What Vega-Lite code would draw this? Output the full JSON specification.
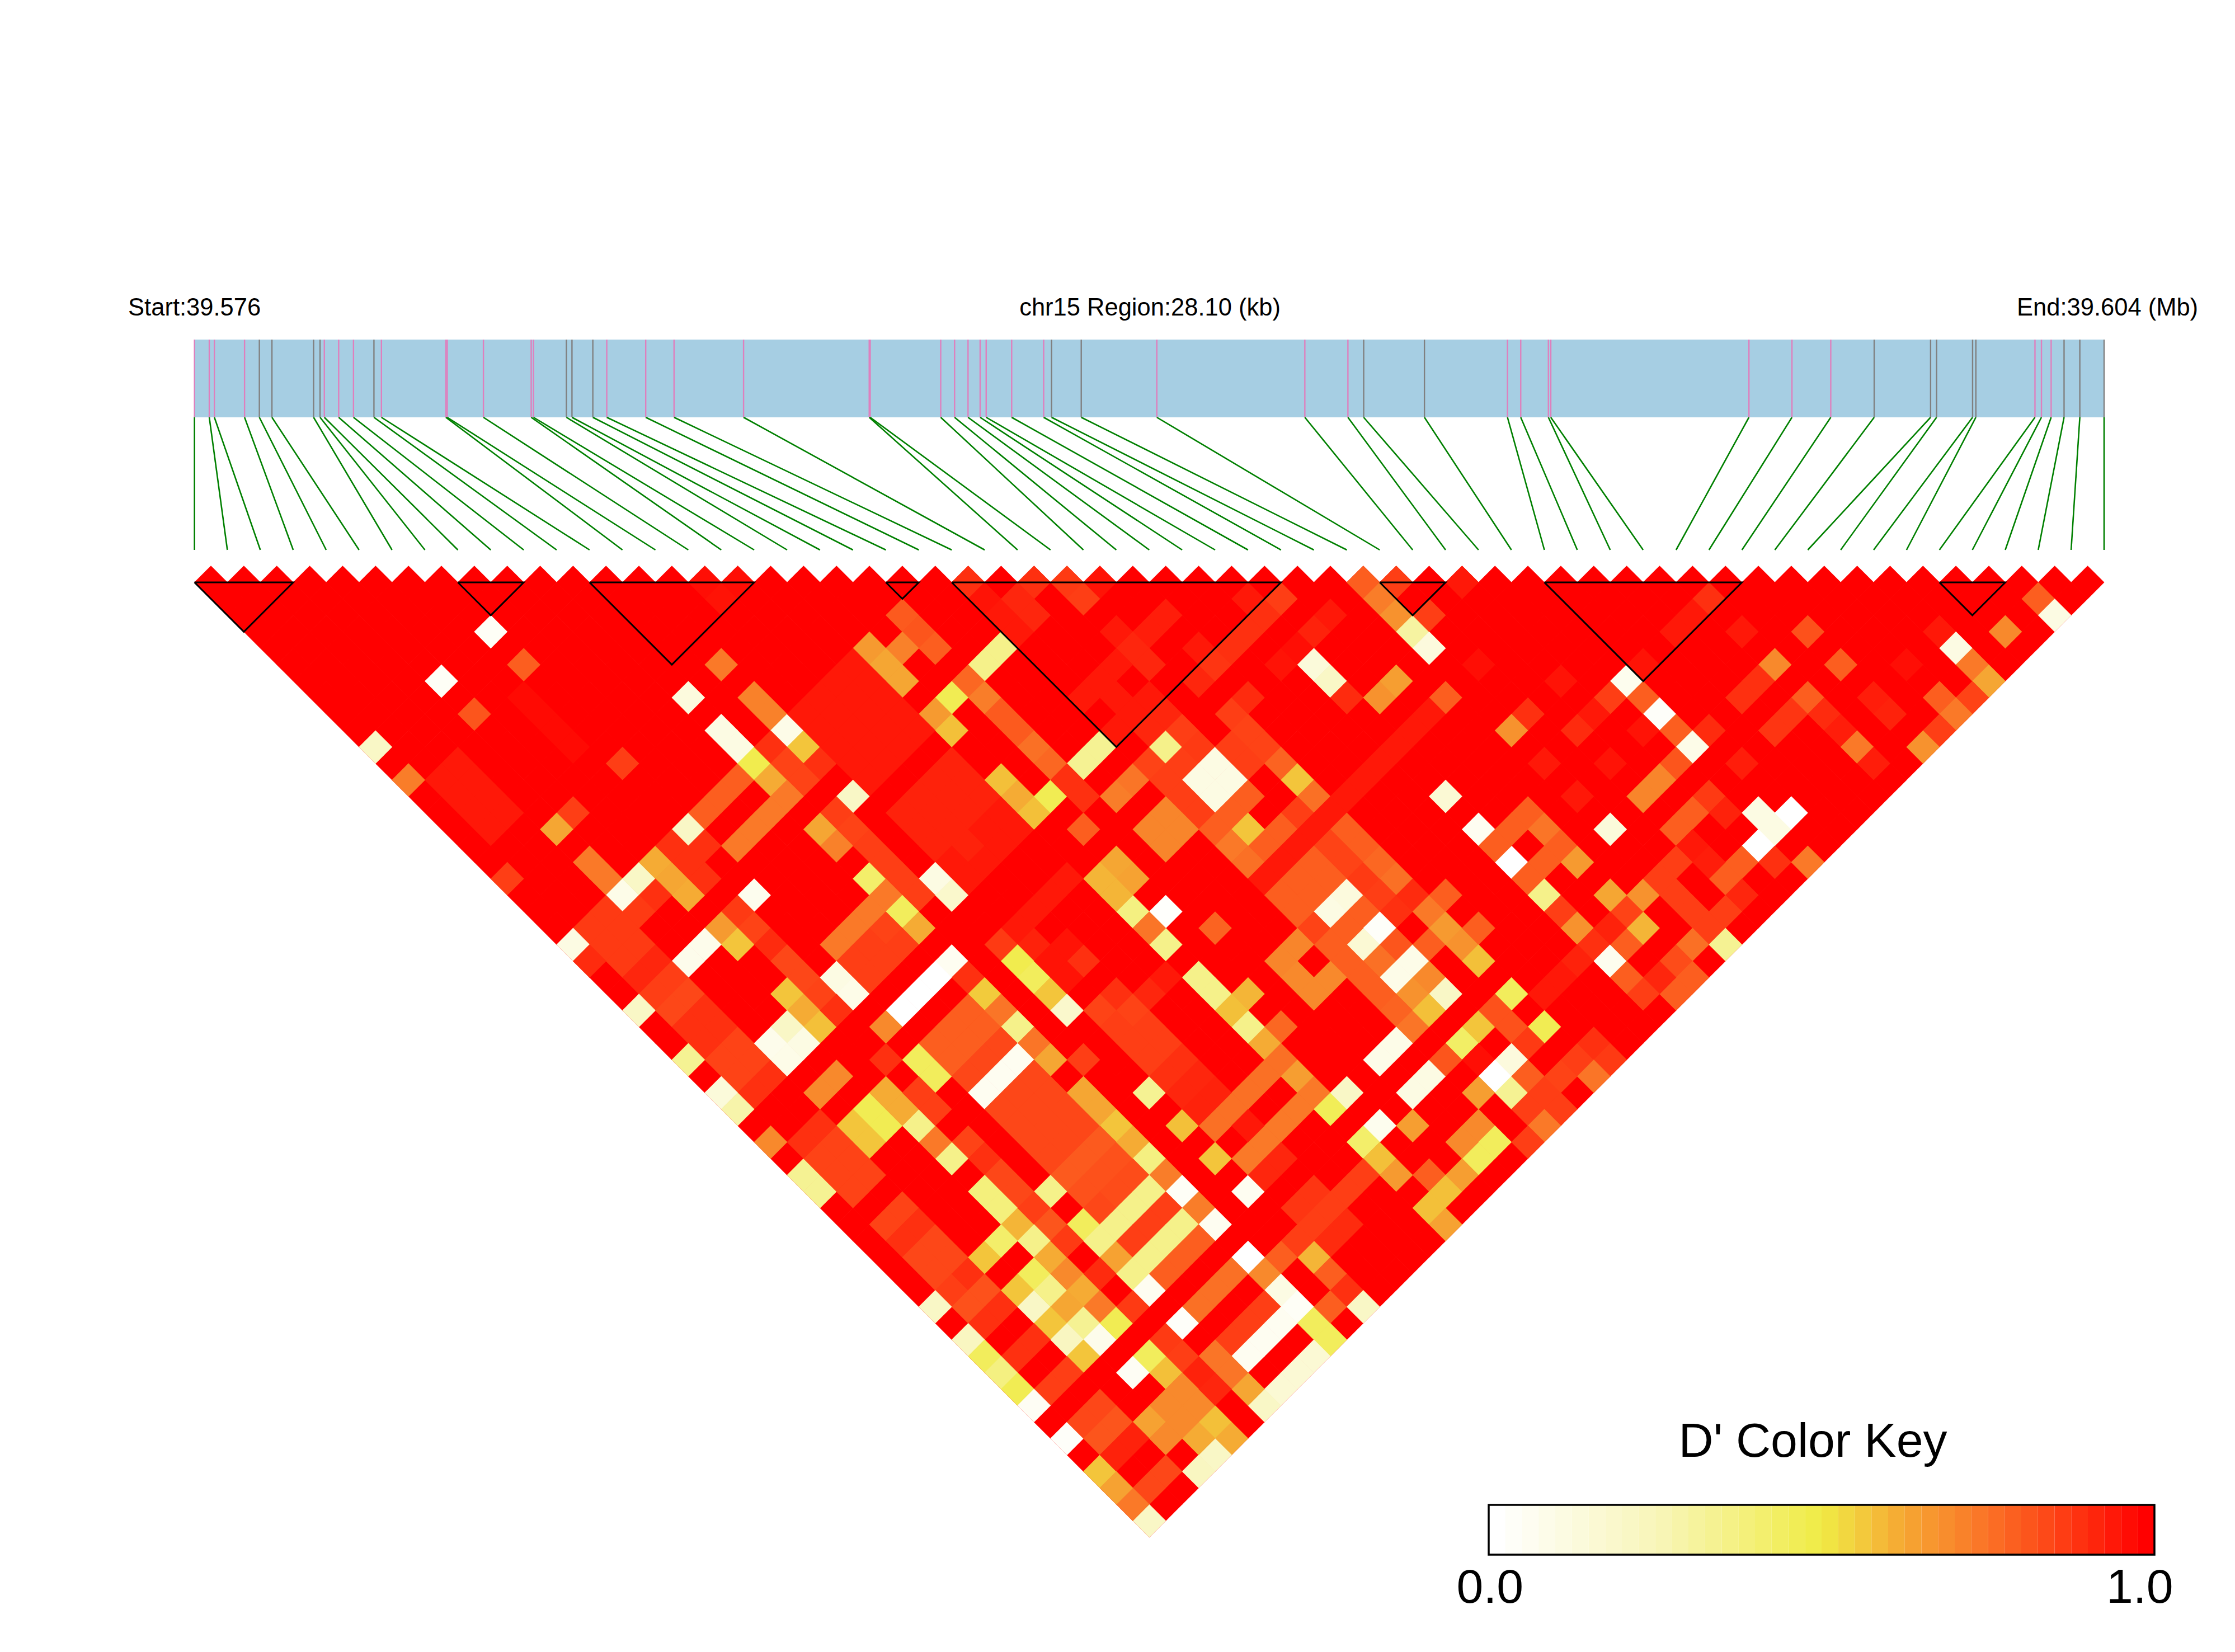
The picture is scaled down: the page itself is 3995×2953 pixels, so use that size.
{"$schema":"https://vega.github.io/schema/vega-lite/v6.json","width":3995,"height":2953,"autosize":{"type":"fit","contains":"padding"},"padding":0,"background":"white","config":{"view":{"stroke":null}},
"datasets":{
"snps":[{"k":0,"pos":0,"end":0,"t":"p"},{"k":1,"pos":0.218,"end":0.484,"t":"p"},{"k":2,"pos":0.293,"end":0.969,"t":"p"},{"k":3,"pos":0.737,"end":1.453,"t":"p"},{"k":4,"pos":0.955,"end":1.938,"t":"g"},{"k":5,"pos":1.14,"end":2.422,"t":"g"},{"k":6,"pos":1.753,"end":2.907,"t":"g"},{"k":7,"pos":1.848,"end":3.391,"t":"g"},{"k":8,"pos":1.911,"end":3.876,"t":"p"},{"k":9,"pos":2.122,"end":4.36,"t":"p"},{"k":10,"pos":2.34,"end":4.845,"t":"p"},{"k":11,"pos":2.641,"end":5.329,"t":"g"},{"k":12,"pos":2.751,"end":5.814,"t":"p"},{"k":13,"pos":3.699,"end":6.298,"t":"p"},{"k":14,"pos":3.719,"end":6.783,"t":"p"},{"k":15,"pos":4.252,"end":7.267,"t":"p"},{"k":16,"pos":4.955,"end":7.752,"t":"p"},{"k":17,"pos":4.989,"end":8.236,"t":"p"},{"k":18,"pos":5.473,"end":8.721,"t":"g"},{"k":19,"pos":5.555,"end":9.205,"t":"g"},{"k":20,"pos":5.862,"end":9.69,"t":"g"},{"k":21,"pos":6.067,"end":10.174,"t":"p"},{"k":22,"pos":6.64,"end":10.659,"t":"p"},{"k":23,"pos":7.057,"end":11.143,"t":"p"},{"k":24,"pos":8.08,"end":11.628,"t":"p"},{"k":25,"pos":9.929,"end":12.112,"t":"p"},{"k":26,"pos":9.943,"end":12.597,"t":"p"},{"k":27,"pos":10.981,"end":13.081,"t":"p"},{"k":28,"pos":11.185,"end":13.565,"t":"p"},{"k":29,"pos":11.383,"end":14.05,"t":"p"},{"k":30,"pos":11.561,"end":14.534,"t":"p"},{"k":31,"pos":11.65,"end":15.019,"t":"p"},{"k":32,"pos":12.025,"end":15.503,"t":"p"},{"k":33,"pos":12.496,"end":15.988,"t":"p"},{"k":34,"pos":12.612,"end":16.472,"t":"g"},{"k":35,"pos":13.049,"end":16.957,"t":"g"},{"k":36,"pos":14.161,"end":17.441,"t":"p"},{"k":37,"pos":16.339,"end":17.926,"t":"p"},{"k":38,"pos":16.973,"end":18.41,"t":"p"},{"k":39,"pos":17.205,"end":18.895,"t":"g"},{"k":40,"pos":18.099,"end":19.379,"t":"g"},{"k":41,"pos":19.321,"end":19.864,"t":"p"},{"k":42,"pos":19.516,"end":20.348,"t":"p"},{"k":43,"pos":19.923,"end":20.833,"t":"p"},{"k":44,"pos":19.958,"end":21.317,"t":"p"},{"k":45,"pos":22.874,"end":21.802,"t":"p"},{"k":46,"pos":23.507,"end":22.286,"t":"p"},{"k":47,"pos":24.078,"end":22.771,"t":"p"},{"k":48,"pos":24.717,"end":23.255,"t":"g"},{"k":49,"pos":25.547,"end":23.74,"t":"g"},{"k":50,"pos":25.635,"end":24.224,"t":"g"},{"k":51,"pos":26.165,"end":24.709,"t":"g"},{"k":52,"pos":26.213,"end":25.193,"t":"g"},{"k":53,"pos":27.083,"end":25.677,"t":"p"},{"k":54,"pos":27.178,"end":26.162,"t":"p"},{"k":55,"pos":27.321,"end":26.646,"t":"p"},{"k":56,"pos":27.511,"end":27.131,"t":"g"},{"k":57,"pos":27.743,"end":27.615,"t":"g"},{"k":58,"pos":28.1,"end":28.1,"t":"g"}],
"base":[
{"d":1,"l":1,"s":[1,3,5,7,9,11,13,15,17,19,21,23,25,27,29,31,33,35,37,39,41,43,45,47,49,51,53,55,57,59,61,63,65,67,69,71,73,75,77,79,81,83,85,87,89,91,93,95,97,99,101,103,105,107,109,111,113,115]},
{"d":1,"l":2,"s":[2,4,6,8,10,12,14,16,18,20,22,24,26,28,30,32,34,36,38,40,42,44,46,48,50,52,54,56,58,60,62,64,66,68,70,72,74,76,78,80,82,84,86,88,90,92,94,96,98,100,102,104,106,108,110,112,114]},
{"d":1,"l":3,"s":[3,5,7,9,11,13,15,17,19,21,23,25,27,29,31,33,35,37,39,41,43,45,47,49,51,53,55,57,59,61,63,65,67,69,71,73,75,77,79,81,83,85,87,89,91,93,95,97,99,101,103,105,107,109,111,113]},
{"d":1,"l":4,"s":[4,6,8,10,12,14,16,18,20,22,24,26,28,30,32,34,36,38,40,42,44,46,48,50,52,54,56,58,60,62,64,66,68,70,72,74,76,78,80,82,84,86,88,90,92,94,96,98,100,102,104,106,108,110,112]},
{"d":1,"l":5,"s":[5,7,9,11,13,15,17,19,21,23,25,27,29,31,33,35,37,39,41,43,45,47,49,51,53,55,57,59,61,63,65,67,69,71,73,75,77,79,81,83,85,87,89,91,93,95,97,99,101,103,105,107,109,111]},
{"d":1,"l":6,"s":[6,8,10,12,14,16,18,20,22,24,26,28,30,32,34,36,38,40,42,44,46,48,50,52,54,56,58,60,62,64,66,68,70,72,74,76,78,80,82,84,86,88,90,92,94,96,98,100,102,104,106,108,110]},
{"d":1,"l":7,"s":[7,9,11,13,15,17,19,21,23,25,27,29,31,33,35,37,39,41,43,45,47,49,51,53,55,57,59,61,63,65,67,69,71,73,75,77,79,81,83,85,87,89,91,93,95,97,99,101,103,105,107,109]},
{"d":1,"l":8,"s":[8,10,12,14,16,18,20,22,24,26,28,30,32,34,36,38,40,42,44,46,48,50,52,54,56,58,60,62,64,66,68,70,72,74,76,78,80,82,84,86,88,90,92,94,96,98,100,102,104,106,108]},
{"d":1,"l":9,"s":[9,11,13,15,17,19,21,23,25,27,29,31,33,35,37,39,41,43,45,47,49,51,53,55,57,59,61,63,65,67,69,71,73,75,77,79,81,83,85,87,89,91,93,95,97,99,101,103,105,107]},
{"d":1,"l":10,"s":[10,12,14,16,18,20,22,24,26,28,30,32,34,36,38,40,42,44,46,48,50,52,54,56,58,60,62,64,66,68,70,72,74,76,78,80,82,84,86,88,90,92,94,96,98,100,102,104,106]},
{"d":1,"l":11,"s":[11,13,15,17,19,21,23,25,27,29,31,33,35,37,39,41,43,45,47,49,51,53,55,57,59,61,63,65,67,69,71,73,75,77,79,81,83,85,87,89,91,93,95,97,99,101,103,105]},
{"d":1,"l":12,"s":[12,14,16,18,20,22,24,26,28,30,32,34,36,38,40,42,44,46,48,50,52,54,56,58,60,62,64,66,68,70,72,74,76,78,80,82,84,86,88,90,92,94,96,98,100,102,104]},
{"d":1,"l":13,"s":[13,15,17,19,21,23,25,27,29,31,33,35,37,39,41,43,45,47,49,51,53,55,57,59,61,63,65,67,69,71,73,75,77,79,81,83,85,87,89,91,93,95,97,99,101,103]},
{"d":1,"l":14,"s":[14,16,18,20,22,24,26,28,30,32,34,36,38,40,42,44,46,48,50,52,54,56,58,60,62,64,66,68,70,72,74,76,78,80,82,84,86,88,90,92,94,96,98,100,102]},
{"d":1,"l":15,"s":[15,17,19,21,23,25,27,29,31,33,35,37,39,41,43,45,47,49,51,53,55,57,59,61,63,65,67,69,71,73,75,77,79,81,83,85,87,89,91,93,95,97,99,101]},
{"d":1,"l":16,"s":[16,18,20,22,24,26,28,30,32,34,36,38,40,42,44,46,48,50,52,54,56,58,60,62,64,66,68,70,72,74,76,78,80,82,84,86,88,90,92,94,96,98,100]},
{"d":1,"l":17,"s":[17,19,21,23,25,27,29,31,33,35,37,39,41,43,45,47,49,51,53,55,57,59,61,63,65,67,69,71,73,75,77,79,81,83,85,87,89,91,93,95,97,99]},
{"d":1,"l":18,"s":[18,20,22,24,26,28,30,32,34,36,38,40,42,44,46,48,50,52,54,56,58,60,62,64,66,68,70,72,74,76,78,80,82,84,86,88,90,92,94,96,98]},
{"d":1,"l":19,"s":[19,21,23,25,27,29,31,33,35,37,39,41,43,45,47,49,51,53,55,57,59,61,63,65,67,69,71,73,75,77,79,81,83,85,87,89,91,93,95,97]},
{"d":1,"l":20,"s":[20,22,24,26,28,30,32,34,36,38,40,42,44,46,48,50,52,54,56,58,60,62,64,66,68,70,72,74,76,78,80,82,84,86,88,90,92,94,96]},
{"d":1,"l":21,"s":[21,23,25,27,29,31,33,35,37,39,41,43,45,47,49,51,53,55,57,59,61,63,65,67,69,71,73,75,77,79,81,83,85,87,89,91,93,95]},
{"d":1,"l":22,"s":[22,24,26,28,30,32,34,36,38,40,42,44,46,48,50,52,54,56,58,60,62,64,66,68,70,72,74,76,78,80,82,84,86,88,90,92,94]},
{"d":1,"l":23,"s":[23,25,27,29,31,33,35,37,39,41,43,45,47,49,51,53,55,57,59,61,63,65,67,69,71,73,75,77,79,81,83,85,87,89,91,93]},
{"d":1,"l":24,"s":[24,26,28,30,32,34,36,38,40,42,44,46,48,50,52,54,56,58,60,62,64,66,68,70,72,74,76,78,80,82,84,86,88,90,92]},
{"d":1,"l":25,"s":[25,27,29,31,33,35,37,39,41,43,45,47,49,51,53,55,57,59,61,63,65,67,69,71,73,75,77,79,81,83,85,87,89,91]},
{"d":1,"l":26,"s":[26,28,30,32,34,36,38,40,42,44,46,48,50,52,54,56,58,60,62,64,66,68,70,72,74,76,78,80,82,84,86,88,90]},
{"d":1,"l":27,"s":[27,29,31,33,35,37,39,41,43,45,47,49,51,53,55,57,59,61,63,65,67,69,71,73,75,77,79,81,83,85,87,89]},
{"d":1,"l":28,"s":[28,30,32,34,36,38,40,42,44,46,48,50,52,54,56,58,60,62,64,66,68,70,72,74,76,78,80,82,84,86,88]},
{"d":1,"l":29,"s":[29,31,33,35,37,39,41,43,45,47,49,51,53,55,57,59,61,63,65,67,69,71,73,75,77,79,81,83,85,87]},
{"d":1,"l":30,"s":[30,32,34,36,38,40,42,44,46,48,50,52,54,56,58,60,62,64,66,68,70,72,74,76,78,80,82,84,86]},
{"d":1,"l":31,"s":[31,33,35,37,39,41,43,45,47,49,51,53,55,57,59,61,63,65,67,69,71,73,75,77,79,81,83,85]},
{"d":1,"l":32,"s":[32,34,36,38,40,42,44,46,48,50,52,54,56,58,60,62,64,66,68,70,72,74,76,78,80,82,84]},
{"d":1,"l":33,"s":[33,35,37,39,41,43,45,47,49,51,53,55,57,59,61,63,65,67,69,71,73,75,77,79,81,83]},
{"d":1,"l":34,"s":[34,36,38,40,42,44,46,48,50,52,54,56,58,60,62,64,66,68,70,72,74,76,78,80,82]},
{"d":1,"l":35,"s":[35,37,39,41,43,45,47,49,51,53,55,57,59,61,63,65,67,69,71,73,75,77,79,81]},
{"d":1,"l":36,"s":[36,38,40,42,44,46,48,50,52,54,56,58,60,62,64,66,68,70,72,74,76,78,80]},
{"d":1,"l":37,"s":[37,39,41,43,45,47,49,51,53,55,57,59,61,63,65,67,69,71,73,75,77,79]},
{"d":1,"l":38,"s":[38,40,42,44,46,48,50,52,54,56,58,60,62,64,66,68,70,72,74,76,78]},
{"d":1,"l":39,"s":[39,41,43,45,47,49,51,53,55,57,59,61,63,65,67,69,71,73,75,77]},
{"d":1,"l":40,"s":[40,42,44,46,48,50,52,54,56,58,60,62,64,66,68,70,72,74,76]},
{"d":1,"l":41,"s":[41,43,45,47,49,51,53,55,57,59,61,63,65,67,69,71,73,75]},
{"d":1,"l":42,"s":[42,44,46,48,50,52,54,56,58,60,62,64,66,68,70,72,74]},
{"d":1,"l":43,"s":[43,45,47,49,51,53,55,57,59,61,63,65,67,69,71,73]},
{"d":1,"l":44,"s":[44,46,48,50,52,54,56,58,60,62,64,66,68,70,72]},
{"d":1,"l":45,"s":[45,47,49,51,53,55,57,59,61,63,65,67,69,71]},
{"d":1,"l":46,"s":[46,48,50,52,54,56,58,60,62,64,66,68,70]},
{"d":1,"l":47,"s":[47,49,51,53,55,57,59,61,63,65,67,69]},
{"d":1,"l":48,"s":[48,50,52,54,56,58,60,62,64,66,68]},
{"d":1,"l":49,"s":[49,51,53,55,57,59,61,63,65,67]},
{"d":1,"l":50,"s":[50,52,54,56,58,60,62,64,66]},
{"d":1,"l":51,"s":[51,53,55,57,59,61,63,65]},
{"d":1,"l":52,"s":[52,54,56,58,60,62,64]},
{"d":1,"l":53,"s":[53,55,57,59,61,63]},
{"d":1,"l":54,"s":[54,56,58,60,62]},
{"d":1,"l":55,"s":[55,57,59,61]},
{"d":1,"l":56,"s":[56,58,60]},
{"d":1,"l":57,"s":[57,59]},
{"d":1,"l":58,"s":[58]}],
"cells":[
{"s":18,"l":4,"d":0.03},{"s":20,"l":6,"d":0.8},{"s":15,"l":7,"d":0.03},{"s":17,"l":9,"d":0.82},{"s":32,"l":6,"d":0.74},{"s":30,"l":8,"d":0.12},{"s":20,"l":8,"d":0.98},{"s":21,"l":9,"d":0.98},{"s":22,"l":10,"d":0.98},{"s":23,"l":11,"d":0.98},{"s":26,"l":12,"d":0.87},{"s":11,"l":11,"d":0.2},{"s":13,"l":13,"d":0.73},
{"s":16,"l":12,"d":0.95},{"s":17,"l":13,"d":0.95},{"s":18,"l":14,"d":0.95},{"s":19,"l":15,"d":0.95},{"s":15,"l":13,"d":0.95},{"s":16,"l":14,"d":0.95},{"s":17,"l":15,"d":0.95},{"s":18,"l":16,"d":0.95},
{"s":23,"l":15,"d":0.87},{"s":22,"l":16,"d":0.63},{"s":19,"l":19,"d":0.87},{"s":24,"l":18,"d":0.74},{"s":25,"l":19,"d":0.74},{"s":26,"l":20,"d":0.08},{"s":27,"l":19,"d":0.2},{"s":28,"l":18,"d":0.62},{"s":29,"l":19,"d":0.63},{"s":30,"l":20,"d":0.62},{"s":28,"l":20,"d":0.9},{"s":30,"l":16,"d":0.2},{"s":31,"l":15,"d":0.8},{"s":32,"l":14,"d":0.8},{"s":33,"l":13,"d":0.8},{"s":32,"l":10,"d":0.1},{"s":33,"l":11,"d":0.1},{"s":34,"l":12,"d":0.48},{"s":35,"l":13,"d":0.62},{"s":34,"l":8,"d":0.72},{"s":35,"l":9,"d":0.72},{"s":36,"l":10,"d":0.08},{"s":35,"l":11,"d":0.9},{"s":37,"l":11,"d":0.57},{"s":36,"l":12,"d":0.86},{"s":37,"l":13,"d":0.86},{"s":38,"l":12,"d":0.9},{"s":36,"l":14,"d":0.74},{"s":35,"l":15,"d":0.74},{"s":34,"l":16,"d":0.74},{"s":33,"l":17,"d":0.74},
{"s":29,"l":17,"d":0.9},{"s":31,"l":17,"d":0.9},{"s":30,"l":18,"d":0.9},{"s":31,"l":19,"d":0.9},{"s":34,"l":20,"d":0.06},{"s":33,"l":21,"d":0.88},{"s":32,"l":22,"d":0.66},{"s":34,"l":22,"d":0.86},{"s":33,"l":23,"d":0.57},{"s":35,"l":23,"d":0.91},{"s":36,"l":24,"d":0.85},{"s":37,"l":25,"d":0.85},{"s":31,"l":23,"d":0.07},{"s":30,"l":24,"d":0.07},
{"s":24,"l":22,"d":0.88},{"s":25,"l":21,"d":0.88},{"s":27,"l":21,"d":0.88},{"s":26,"l":22,"d":0.88},{"s":25,"l":23,"d":0.88},{"s":26,"l":24,"d":0.88},{"s":27,"l":23,"d":0.88},{"s":23,"l":23,"d":0.1},{"s":24,"l":24,"d":0.91},{"s":27,"l":25,"d":0.92},{"s":28,"l":24,"d":0.92},{"s":29,"l":25,"d":0.87},{"s":28,"l":26,"d":0.87},{"s":30,"l":26,"d":0.85},{"s":31,"l":27,"d":0.9},{"s":36,"l":26,"d":0.57},{"s":38,"l":26,"d":0.86},{"s":32,"l":2,"d":0.96},{"s":31,"l":1,"d":0.97},{"s":33,"l":1,"d":0.97},
{"s":71,"l":1,"d":0.8},{"s":73,"l":1,"d":0.87},{"s":77,"l":1,"d":0.95},{"s":47,"l":1,"d":0.9},{"s":51,"l":1,"d":0.9},{"s":53,"l":1,"d":0.88},{"s":55,"l":1,"d":0.96},
{"s":48,"l":2,"d":0.96},{"s":49,"l":3,"d":0.95},{"s":50,"l":4,"d":0.95},{"s":50,"l":2,"d":0.92},{"s":51,"l":3,"d":0.92},{"s":54,"l":2,"d":0.87},{"s":56,"l":4,"d":0.95},{"s":58,"l":4,"d":0.94},{"s":59,"l":3,"d":0.94},{"s":57,"l":5,"d":0.92},{"s":58,"l":6,"d":0.92},{"s":55,"l":7,"d":0.95},{"s":56,"l":6,"d":0.95},{"s":54,"l":8,"d":0.95},{"s":56,"l":8,"d":0.95},{"s":56,"l":10,"d":0.95},{"s":58,"l":8,"d":0.95},{"s":57,"l":9,"d":0.95},{"s":59,"l":9,"d":0.92},{"s":58,"l":10,"d":0.92},{"s":61,"l":7,"d":0.92},{"s":61,"l":5,"d":0.95},{"s":62,"l":6,"d":0.89},{"s":63,"l":5,"d":0.9},{"s":64,"l":4,"d":0.9},{"s":65,"l":3,"d":0.9},{"s":66,"l":2,"d":0.87},{"s":64,"l":2,"d":0.95},
{"s":43,"l":3,"d":0.81},{"s":44,"l":4,"d":0.82},{"s":45,"l":5,"d":0.8},{"s":43,"l":5,"d":0.72},{"s":41,"l":5,"d":0.66},{"s":42,"l":6,"d":0.63},{"s":43,"l":7,"d":0.63},{"s":48,"l":6,"d":0.35},{"s":49,"l":5,"d":0.35},{"s":47,"l":7,"d":0.78},{"s":48,"l":8,"d":0.73},{"s":46,"l":8,"d":0.47},{"s":45,"l":9,"d":0.66},{"s":46,"l":10,"d":0.58},{"s":49,"l":9,"d":0.81},{"s":50,"l":10,"d":0.81},{"s":51,"l":11,"d":0.76},{"s":52,"l":12,"d":0.78},{"s":54,"l":12,"d":0.33},{"s":55,"l":11,"d":0.33},
{"s":40,"l":6,"d":0.95},{"s":39,"l":7,"d":0.95},{"s":40,"l":8,"d":0.95},{"s":41,"l":7,"d":0.95},{"s":42,"l":8,"d":0.95},{"s":41,"l":9,"d":0.95},{"s":40,"l":10,"d":0.95},{"s":42,"l":10,"d":0.95},{"s":43,"l":9,"d":0.95},{"s":44,"l":10,"d":0.95},{"s":43,"l":11,"d":0.95},{"s":42,"l":12,"d":0.95},{"s":41,"l":11,"d":0.95},{"s":40,"l":12,"d":0.95},{"s":41,"l":13,"d":0.95},{"s":39,"l":11,"d":0.95},{"s":39,"l":9,"d":0.95},{"s":38,"l":8,"d":0.95},{"s":38,"l":10,"d":0.95},{"s":37,"l":9,"d":0.95},
{"s":46,"l":12,"d":0.93},{"s":45,"l":13,"d":0.93},{"s":47,"l":13,"d":0.93},{"s":44,"l":14,"d":0.93},{"s":46,"l":14,"d":0.93},{"s":48,"l":14,"d":0.93},{"s":43,"l":15,"d":0.93},{"s":45,"l":15,"d":0.93},{"s":47,"l":15,"d":0.93},{"s":44,"l":16,"d":0.93},{"s":46,"l":16,"d":0.93},{"s":45,"l":17,"d":0.93},{"s":47,"l":17,"d":0.93},
{"s":48,"l":16,"d":0.95},{"s":49,"l":15,"d":0.95},{"s":50,"l":16,"d":0.95},{"s":49,"l":17,"d":0.95},{"s":48,"l":18,"d":0.95},{"s":47,"l":19,"d":0.95},{"s":46,"l":18,"d":0.95},
{"s":49,"l":13,"d":0.58},{"s":50,"l":14,"d":0.62},{"s":51,"l":15,"d":0.58},{"s":52,"l":14,"d":0.47},{"s":54,"l":16,"d":0.8},{"s":56,"l":14,"d":0.73},{"s":57,"l":13,"d":0.75},{"s":54,"l":14,"d":0.9},{"s":53,"l":13,"d":0.9},{"s":58,"l":12,"d":0.86},{"s":59,"l":11,"d":0.35},{"s":59,"l":13,"d":0.87},{"s":60,"l":12,"d":0.87},{"s":60,"l":10,"d":0.87},{"s":61,"l":11,"d":0.88},
{"s":62,"l":12,"d":0.1},{"s":61,"l":13,"d":0.1},{"s":63,"l":13,"d":0.1},{"s":62,"l":14,"d":0.1},{"s":60,"l":14,"d":0.87},{"s":61,"l":15,"d":0.87},{"s":63,"l":11,"d":0.87},{"s":64,"l":12,"d":0.87},{"s":63,"l":9,"d":0.87},{"s":64,"l":10,"d":0.86},{"s":65,"l":11,"d":0.86},{"s":64,"l":14,"d":0.8},{"s":63,"l":15,"d":0.8},{"s":62,"l":16,"d":0.8},{"s":66,"l":12,"d":0.79},{"s":67,"l":13,"d":0.57},{"s":68,"l":14,"d":0.76},{"s":67,"l":15,"d":0.87},{"s":66,"l":16,"d":0.8},{"s":65,"l":17,"d":0.8},{"s":64,"l":16,"d":0.57},{"s":63,"l":17,"d":0.74},{"s":64,"l":18,"d":0.76},
{"s":59,"l":15,"d":0.71},{"s":58,"l":16,"d":0.71},{"s":60,"l":16,"d":0.71},{"s":59,"l":17,"d":0.71},
{"s":69,"l":3,"d":0.95},{"s":68,"l":4,"d":0.93},{"s":66,"l":6,"d":0.96},{"s":67,"l":5,"d":0.97},{"s":68,"l":6,"d":0.13},{"s":69,"l":7,"d":0.2},{"s":70,"l":8,"d":0.91},{"s":72,"l":8,"d":0.68},{"s":73,"l":7,"d":0.65},{"s":72,"l":2,"d":0.73},{"s":73,"l":3,"d":0.68},{"s":74,"l":4,"d":0.3},{"s":75,"l":5,"d":0.12},{"s":75,"l":3,"d":0.87},{"s":76,"l":8,"d":0.8},
{"s":75,"l":9,"d":0.95},{"s":74,"l":10,"d":0.95},{"s":73,"l":11,"d":0.95},{"s":72,"l":12,"d":0.95},{"s":71,"l":13,"d":0.95},{"s":70,"l":14,"d":0.95},{"s":69,"l":15,"d":0.95},{"s":68,"l":16,"d":0.95},{"s":67,"l":17,"d":0.95},{"s":66,"l":18,"d":0.95},{"s":65,"l":19,"d":0.95},
{"s":64,"l":8,"d":0.91},{"s":76,"l":14,"d":0.15},
{"s":70,"l":16,"d":0.8},{"s":71,"l":17,"d":0.8},{"s":69,"l":17,"d":0.86},{"s":70,"l":18,"d":0.86},{"s":68,"l":18,"d":0.8},{"s":67,"l":19,"d":0.8},{"s":69,"l":19,"d":0.8},{"s":68,"l":20,"d":0.8},{"s":66,"l":20,"d":0.8},{"s":67,"l":21,"d":0.8},
{"s":70,"l":20,"d":0.12},{"s":69,"l":21,"d":0.1},{"s":71,"l":19,"d":0.88},{"s":72,"l":18,"d":0.78},{"s":73,"l":19,"d":0.76},{"s":72,"l":20,"d":0.87},{"s":73,"l":21,"d":0.9},{"s":74,"l":20,"d":0.91},{"s":75,"l":21,"d":0.74},{"s":76,"l":20,"d":0.8},{"s":71,"l":21,"d":0.8},{"s":72,"l":22,"d":0.02},{"s":71,"l":23,"d":0.15},{"s":70,"l":22,"d":0.8},{"s":69,"l":23,"d":0.8},{"s":68,"l":22,"d":0.86},{"s":73,"l":23,"d":0.82},{"s":72,"l":24,"d":0.76},{"s":74,"l":24,"d":0.08},{"s":73,"l":25,"d":0.08},{"s":75,"l":23,"d":0.8},{"s":76,"l":22,"d":0.66},{"s":77,"l":23,"d":0.68},{"s":75,"l":25,"d":0.7},{"s":76,"l":26,"d":0.2},{"s":74,"l":26,"d":0.68},{"s":66,"l":24,"d":0.71},{"s":67,"l":23,"d":0.71},{"s":70,"l":24,"d":0.8},{"s":71,"l":25,"d":0.8},{"s":72,"l":26,"d":0.8},{"s":68,"l":26,"d":0.7},{"s":69,"l":25,"d":0.7},{"s":62,"l":22,"d":0.79},
{"s":59,"l":23,"d":0.35},{"s":59,"l":21,"d":0.01},{"s":57,"l":21,"d":0.37},{"s":58,"l":22,"d":0.75},{"s":57,"l":19,"d":0.64},{"s":56,"l":18,"d":0.63},{"s":55,"l":19,"d":0.6},{"s":56,"l":20,"d":0.6},
{"s":53,"l":19,"d":0.95},{"s":52,"l":20,"d":0.95},{"s":51,"l":21,"d":0.95},{"s":50,"l":22,"d":0.95},{"s":49,"l":23,"d":0.88},{"s":51,"l":23,"d":0.93},{"s":50,"l":24,"d":0.48},{"s":51,"l":25,"d":0.45},{"s":52,"l":26,"d":0.57},{"s":54,"l":24,"d":0.9},{"s":53,"l":23,"d":0.96},{"s":52,"l":24,"d":0.96},{"s":53,"l":25,"d":0.96},
{"s":46,"l":24,"d":0.05},{"s":45,"l":25,"d":0},{"s":44,"l":26,"d":0},{"s":43,"l":27,"d":0},{"s":47,"l":25,"d":0.9},{"s":48,"l":26,"d":0.56},
{"s":46,"l":20,"d":0.18},{"s":45,"l":19,"d":0.1},{"s":41,"l":19,"d":0.42},{"s":43,"l":19,"d":0.87},{"s":42,"l":20,"d":0.74},{"s":44,"l":20,"d":0.87},{"s":43,"l":21,"d":0.45},{"s":44,"l":22,"d":0.62},{"s":41,"l":21,"d":0.74},{"s":40,"l":22,"d":0.74},{"s":39,"l":23,"d":0.74},
{"s":42,"l":22,"d":0.86},{"s":41,"l":23,"d":0.87},{"s":43,"l":23,"d":0.87},{"s":40,"l":24,"d":0.87},{"s":42,"l":24,"d":0.87},{"s":41,"l":25,"d":0.87},
{"s":40,"l":14,"d":0.2},{"s":39,"l":15,"d":0.87},{"s":40,"l":16,"d":0.86},{"s":39,"l":17,"d":0.72},{"s":38,"l":16,"d":0.63},{"s":41,"l":17,"d":0.87},{"s":42,"l":18,"d":0.87},
{"s":39,"l":25,"d":0.1},{"s":40,"l":26,"d":0.08},{"s":61,"l":25,"d":0.35},{"s":62,"l":26,"d":0.35},{"s":64,"l":26,"d":0.6},{"s":56,"l":26,"d":0.9},{"s":59,"l":25,"d":0.95},{"s":58,"l":26,"d":0.92},
{"s":92,"l":2,"d":0.9},{"s":91,"l":3,"d":0.95},{"s":90,"l":4,"d":0.95},{"s":94,"l":4,"d":0.95},{"s":98,"l":4,"d":0.83},{"s":78,"l":6,"d":0.97},{"s":83,"l":7,"d":0.96},{"s":88,"l":6,"d":0.96},{"s":87,"l":7,"d":0.06},{"s":86,"l":8,"d":0.87},{"s":88,"l":8,"d":0.8},{"s":89,"l":9,"d":0.02},{"s":85,"l":9,"d":0.95},{"s":84,"l":10,"d":0.91},{"s":81,"l":9,"d":0.9},{"s":80,"l":10,"d":0.68},{"s":82,"l":12,"d":0.95},{"s":86,"l":12,"d":0.96},{"s":84,"l":14,"d":0.95},{"s":88,"l":10,"d":0.96},{"s":90,"l":10,"d":0.8},{"s":92,"l":10,"d":0.91},{"s":91,"l":11,"d":0.08},{"s":90,"l":12,"d":0.82},{"s":89,"l":13,"d":0.71},{"s":88,"l":14,"d":0.71},{"s":94,"l":12,"d":0.94},{"s":96,"l":6,"d":0.7},{"s":95,"l":7,"d":0.9},{"s":94,"l":8,"d":0.9},{"s":100,"l":6,"d":0.8},{"s":98,"l":8,"d":0.8},{"s":97,"l":9,"d":0.89},{"s":96,"l":10,"d":0.89},{"s":99,"l":9,"d":0.91},{"s":100,"l":10,"d":0.94},{"s":101,"l":11,"d":0.74},{"s":102,"l":12,"d":0.94},{"s":104,"l":6,"d":0.97},{"s":102,"l":8,"d":0.94},{"s":103,"l":9,"d":0.93},{"s":106,"l":4,"d":0.95},{"s":107,"l":5,"d":0.1},{"s":108,"l":6,"d":0.74},{"s":109,"l":7,"d":0.63},{"s":106,"l":8,"d":0.8},{"s":108,"l":8,"d":0.86},{"s":107,"l":9,"d":0.74},{"s":106,"l":10,"d":0.87},{"s":105,"l":11,"d":0.68},{"s":110,"l":4,"d":0.7},{"s":112,"l":2,"d":0.8},{"s":113,"l":3,"d":0.1},
{"s":92,"l":14,"d":0.88},{"s":91,"l":15,"d":0.8},{"s":90,"l":16,"d":0.8},{"s":93,"l":15,"d":0.93},{"s":95,"l":15,"d":0.1},{"s":96,"l":16,"d":0.1},{"s":97,"l":15,"d":0},{"s":95,"l":17,"d":0},{"s":94,"l":18,"d":0.8},{"s":93,"l":19,"d":0.8},{"s":96,"l":18,"d":0.9},{"s":98,"l":18,"d":0.74},{"s":91,"l":17,"d":0.95},{"s":92,"l":18,"d":0.94},{"s":94,"l":20,"d":0.92},
{"s":86,"l":16,"d":0.13},{"s":78,"l":16,"d":0.05},{"s":80,"l":18,"d":0},{"s":81,"l":15,"d":0.8},{"s":80,"l":16,"d":0.8},{"s":79,"l":17,"d":0.8},{"s":82,"l":16,"d":0.75},{"s":83,"l":17,"d":0.8},{"s":82,"l":18,"d":0.8},{"s":81,"l":19,"d":0.8},{"s":84,"l":18,"d":0.66},{"s":82,"l":20,"d":0.35},{"s":83,"l":21,"d":0.87},{"s":84,"l":22,"d":0.68},{"s":85,"l":23,"d":0.9},{"s":86,"l":24,"d":0.06},{"s":87,"l":23,"d":0.8},{"s":88,"l":22,"d":0.6},{"s":87,"l":21,"d":0.86},{"s":86,"l":20,"d":0.63},{"s":86,"l":22,"d":0.93},{"s":88,"l":20,"d":0.68},
{"s":89,"l":19,"d":0.87},{"s":90,"l":18,"d":0.87},{"s":90,"l":20,"d":0.87},{"s":91,"l":21,"d":0.87},{"s":92,"l":22,"d":0.87},{"s":93,"l":21,"d":0.87},
{"s":93,"l":23,"d":0.33},{"s":91,"l":23,"d":0.76},{"s":90,"l":24,"d":0.84},{"s":91,"l":25,"d":0.8},{"s":90,"l":26,"d":0.8},{"s":89,"l":25,"d":0.92},{"s":88,"l":26,"d":0.87},{"s":87,"l":25,"d":0.8},{"s":78,"l":22,"d":0.8},{"s":78,"l":24,"d":0.58},{"s":80,"l":26,"d":0.45},{"s":84,"l":24,"d":0.93},{"s":83,"l":25,"d":0.95},{"s":82,"l":26,"d":0.95},
{"s":27,"l":27,"d":0.2},{"s":29,"l":27,"d":0.85},{"s":30,"l":28,"d":0.9},{"s":31,"l":29,"d":0.9},{"s":32,"l":28,"d":0.9},{"s":33,"l":29,"d":0.86},{"s":32,"l":30,"d":0.86},{"s":34,"l":30,"d":0.86},{"s":33,"l":31,"d":0.86},{"s":34,"l":32,"d":0.9},{"s":35,"l":31,"d":0.9},{"s":30,"l":30,"d":0.33},{"s":32,"l":32,"d":0.13},{"s":33,"l":33,"d":0.28},
{"s":37,"l":27,"d":0.62},{"s":38,"l":28,"d":0.58},{"s":36,"l":28,"d":0.2},{"s":35,"l":29,"d":0.07},{"s":36,"l":30,"d":0.08},{"s":37,"l":29,"d":0.1},{"s":39,"l":27,"d":0.9},
{"s":42,"l":28,"d":0.7},{"s":42,"l":30,"d":0.9},{"s":44,"l":30,"d":0.45},{"s":45,"l":31,"d":0.45},
{"s":47,"l":27,"d":0.8},{"s":46,"l":28,"d":0.8},{"s":45,"l":29,"d":0.8},{"s":48,"l":28,"d":0.8},{"s":47,"l":29,"d":0.8},{"s":46,"l":30,"d":0.8},
{"s":49,"l":27,"d":0.75},{"s":50,"l":28,"d":0.35},{"s":51,"l":29,"d":0.75},{"s":52,"l":30,"d":0.63},{"s":53,"l":27,"d":0.18},
{"s":47,"l":31,"d":0.85},{"s":48,"l":30,"d":0.85},{"s":49,"l":29,"d":0.85},
{"s":48,"l":32,"d":0.05},{"s":49,"l":31,"d":0.05},{"s":50,"l":30,"d":0.05},
{"s":51,"l":31,"d":0.85},{"s":50,"l":32,"d":0.85},{"s":49,"l":33,"d":0.85},{"s":52,"l":32,"d":0.85},{"s":51,"l":33,"d":0.85},{"s":50,"l":34,"d":0.85},{"s":53,"l":33,"d":0.85},{"s":52,"l":34,"d":0.85},{"s":51,"l":35,"d":0.85},{"s":54,"l":34,"d":0.85},{"s":53,"l":35,"d":0.85},{"s":52,"l":36,"d":0.85},
{"s":54,"l":30,"d":0.87},{"s":54,"l":32,"d":0.63},{"s":55,"l":33,"d":0.63},{"s":56,"l":34,"d":0.57},
{"s":53,"l":37,"d":0.81},{"s":54,"l":36,"d":0.81},{"s":55,"l":35,"d":0.81},{"s":54,"l":38,"d":0.83},{"s":55,"l":37,"d":0.83},{"s":56,"l":36,"d":0.83},
{"s":52,"l":38,"d":0.35},{"s":47,"l":35,"d":0.86},{"s":48,"l":36,"d":0.9},{"s":49,"l":37,"d":0.85},{"s":50,"l":38,"d":0.85},{"s":48,"l":38,"d":0.38},{"s":49,"l":39,"d":0.38},{"s":50,"l":40,"d":0.6},{"s":51,"l":39,"d":0.87},{"s":52,"l":40,"d":0.82},{"s":54,"l":40,"d":0.45},{"s":55,"l":39,"d":0.85},{"s":56,"l":40,"d":0.35},
{"s":46,"l":36,"d":0.35},{"s":45,"l":35,"d":0.74},{"s":44,"l":34,"d":0.35},{"s":45,"l":33,"d":0.87},{"s":41,"l":33,"d":0.47},{"s":42,"l":34,"d":0.47},{"s":42,"l":32,"d":0.62},{"s":43,"l":33,"d":0.62},{"s":44,"l":32,"d":0.87},{"s":40,"l":34,"d":0.57},{"s":41,"l":35,"d":0.57},
{"s":38,"l":32,"d":0.7},{"s":39,"l":31,"d":0.7},{"s":35,"l":35,"d":0.7},{"s":37,"l":37,"d":0.33},{"s":38,"l":38,"d":0.33},
{"s":39,"l":35,"d":0.86},{"s":38,"l":36,"d":0.86},{"s":40,"l":36,"d":0.86},{"s":39,"l":37,"d":0.86},{"s":37,"l":35,"d":0.9},{"s":38,"l":34,"d":0.9},{"s":40,"l":38,"d":0.86},{"s":41,"l":37,"d":0.86},
{"s":43,"l":39,"d":0.86},{"s":42,"l":40,"d":0.86},{"s":44,"l":40,"d":0.9},{"s":43,"l":41,"d":0.9},{"s":45,"l":41,"d":0.85},{"s":44,"l":42,"d":0.85},{"s":46,"l":42,"d":0.85},{"s":45,"l":43,"d":0.85},{"s":46,"l":44,"d":0.87},{"s":47,"l":43,"d":0.9},{"s":45,"l":45,"d":0.2},{"s":47,"l":45,"d":0.83},{"s":48,"l":44,"d":0.83},{"s":48,"l":46,"d":0.9},{"s":49,"l":45,"d":0.9},
{"s":48,"l":42,"d":0.57},{"s":49,"l":41,"d":0.42},{"s":51,"l":41,"d":0.35},{"s":51,"l":43,"d":0.45},{"s":50,"l":44,"d":0.57},{"s":51,"l":45,"d":0.2},{"s":52,"l":44,"d":0.35},{"s":52,"l":42,"d":0.62},{"s":53,"l":43,"d":0.7},{"s":54,"l":44,"d":0.62},{"s":55,"l":45,"d":0.74},{"s":53,"l":45,"d":0.63},{"s":52,"l":46,"d":0.57},{"s":54,"l":46,"d":0.33},{"s":53,"l":47,"d":0.22},{"s":55,"l":47,"d":0.07},{"s":54,"l":48,"d":0.57},{"s":56,"l":46,"d":0.47},{"s":53,"l":41,"d":0.88},{"s":55,"l":41,"d":0.35},{"s":56,"l":42,"d":0.64},{"s":55,"l":43,"d":0.91},
{"s":51,"l":47,"d":0.9},{"s":50,"l":48,"d":0.9},{"s":52,"l":50,"d":0.87},{"s":53,"l":49,"d":0.87},{"s":47,"l":47,"d":0.22},{"s":48,"l":48,"d":0.45},{"s":49,"l":49,"d":0.37},{"s":50,"l":50,"d":0.47},{"s":51,"l":51,"d":0.04},{"s":53,"l":53,"d":0.02},{"s":55,"l":55,"d":0.57},
{"s":55,"l":51,"d":0.85},{"s":54,"l":52,"d":0.85},{"s":56,"l":52,"d":0.82},{"s":55,"l":53,"d":0.82},
{"s":66,"l":28,"d":0.78},{"s":65,"l":29,"d":0.62},{"s":64,"l":28,"d":0.35},{"s":63,"l":27,"d":0.58},{"s":67,"l":25,"d":0.7},{"s":73,"l":27,"d":0.79},{"s":74,"l":28,"d":0.75},{"s":75,"l":27,"d":0.58},{"s":73,"l":29,"d":0.08},{"s":72,"l":30,"d":0.08},{"s":75,"l":31,"d":0.1},{"s":74,"l":32,"d":0.1},{"s":78,"l":28,"d":0.57},{"s":77,"l":29,"d":0.43},{"s":76,"l":30,"d":0.82},{"s":79,"l":27,"d":0.83},{"s":80,"l":28,"d":0.83},{"s":82,"l":28,"d":0.47},{"s":81,"l":29,"d":0.88},{"s":78,"l":30,"d":0.97},{"s":80,"l":30,"d":0.12},{"s":79,"l":31,"d":0},{"s":80,"l":32,"d":0.33},{"s":78,"l":32,"d":0.65},{"s":81,"l":31,"d":0.8},{"s":82,"l":32,"d":0.87},{"s":81,"l":33,"d":0.87},{"s":83,"l":31,"d":0.86},{"s":84,"l":30,"d":0.87},{"s":85,"l":29,"d":0.9},{"s":86,"l":30,"d":0.88},{"s":85,"l":31,"d":0.75},{"s":83,"l":33,"d":0.87},{"s":82,"l":34,"d":0.74},{"s":81,"l":35,"d":0.87},{"s":78,"l":34,"d":0.7},{"s":79,"l":35,"d":0.45},{"s":78,"l":36,"d":0.45},{"s":77,"l":35,"d":0.7},
{"s":74,"l":34,"d":0.65},{"s":72,"l":34,"d":0.06},{"s":71,"l":35,"d":0.42},{"s":72,"l":36,"d":0.58},{"s":73,"l":37,"d":0.66},{"s":75,"l":37,"d":0.8},{"s":75,"l":39,"d":0.58},{"s":76,"l":38,"d":0.58},{"s":77,"l":37,"d":0.65},{"s":76,"l":40,"d":0.64},
{"s":67,"l":39,"d":0.89},{"s":68,"l":38,"d":0.89},{"s":68,"l":40,"d":0.87},{"s":69,"l":39,"d":0.87},{"s":70,"l":38,"d":0.87},{"s":71,"l":37,"d":0.87},{"s":69,"l":41,"d":0.91},{"s":70,"l":40,"d":0.91},{"s":68,"l":42,"d":0.6},{"s":69,"l":43,"d":0.8},{"s":67,"l":41,"d":0.87},{"s":66,"l":42,"d":0.8},{"s":65,"l":43,"d":0.7},{"s":66,"l":44,"d":0.1},{"s":67,"l":45,"d":0.03},{"s":68,"l":46,"d":0.45},{"s":69,"l":47,"d":0.45},{"s":69,"l":45,"d":0.8},{"s":70,"l":44,"d":0.9},{"s":71,"l":45,"d":0.2},
{"s":64,"l":42,"d":0},{"s":64,"l":38,"d":0.05},
{"s":62,"l":34,"d":0.76},{"s":63,"l":33,"d":0.76},{"s":64,"l":32,"d":0.76},{"s":65,"l":31,"d":0.76},{"s":66,"l":30,"d":0.76},{"s":67,"l":31,"d":0.65},{"s":68,"l":32,"d":0.74},{"s":67,"l":33,"d":0.74},{"s":66,"l":34,"d":0.74},{"s":65,"l":35,"d":0.74},{"s":64,"l":36,"d":0.74},{"s":69,"l":33,"d":0.46},{"s":70,"l":32,"d":0.2},{"s":64,"l":34,"d":0.95},{"s":66,"l":36,"d":0.92},{"s":65,"l":37,"d":0.92},{"s":62,"l":36,"d":0.57},{"s":60,"l":34,"d":0.58},{"s":58,"l":32,"d":0.33},
{"s":55,"l":27,"d":0.86},{"s":57,"l":27,"d":0.86},{"s":56,"l":28,"d":0.87},{"s":58,"l":28,"d":0.87},{"s":57,"l":29,"d":0.87},{"s":59,"l":29,"d":0.87},{"s":58,"l":30,"d":0.87},{"s":60,"l":30,"d":0.9},{"s":59,"l":31,"d":0.9},{"s":61,"l":31,"d":0.92},{"s":60,"l":32,"d":0.92},{"s":62,"l":32,"d":0.93},{"s":61,"l":33,"d":0.93},
{"s":57,"l":35,"d":0.62},{"s":58,"l":36,"d":0.37},{"s":59,"l":37,"d":0.73},{"s":60,"l":38,"d":0.03},{"s":61,"l":39,"d":0.73},{"s":62,"l":40,"d":0.05},
{"s":57,"l":37,"d":0.84},{"s":56,"l":38,"d":0.84},{"s":58,"l":38,"d":0.35},{"s":57,"l":39,"d":0.35},
{"s":59,"l":39,"d":0.87},{"s":58,"l":40,"d":0.87},{"s":57,"l":41,"d":0.87},
{"s":60,"l":40,"d":0.35},{"s":59,"l":41,"d":0.35},{"s":58,"l":42,"d":0.35},{"s":57,"l":43,"d":0.35},{"s":58,"l":44,"d":0.05},{"s":61,"l":41,"d":0.8},{"s":60,"l":42,"d":0.8},{"s":59,"l":43,"d":0.8},{"s":57,"l":45,"d":0.88},
{"s":61,"l":45,"d":0.76},{"s":62,"l":44,"d":0.76},{"s":63,"l":43,"d":0.76},{"s":60,"l":46,"d":0.02},{"s":63,"l":47,"d":0.87},{"s":64,"l":46,"d":0.87},{"s":65,"l":45,"d":0.87},{"s":64,"l":48,"d":0.05},{"s":65,"l":47,"d":0.05},{"s":66,"l":46,"d":0.05},
{"s":68,"l":48,"d":0.15},{"s":67,"l":49,"d":0.15},{"s":66,"l":50,"d":0.15},{"s":65,"l":51,"d":0.2},{"s":62,"l":52,"d":0.58},{"s":63,"l":53,"d":0.62},{"s":62,"l":54,"d":0.2},{"s":61,"l":55,"d":0.22},{"s":61,"l":53,"d":0.62},{"s":59,"l":51,"d":0.7},{"s":60,"l":52,"d":0.7},{"s":58,"l":52,"d":0.64},{"s":59,"l":53,"d":0.7},{"s":61,"l":51,"d":0.7},{"s":64,"l":50,"d":0.63},{"s":62,"l":48,"d":0.75},{"s":63,"l":49,"d":0.75},{"s":62,"l":50,"d":0.92},{"s":61,"l":49,"d":0.93},{"s":60,"l":48,"d":0.87},{"s":59,"l":47,"d":0.88},{"s":59,"l":49,"d":0.58},{"s":58,"l":48,"d":0.45},{"s":57,"l":49,"d":0.04},{"s":60,"l":50,"d":0.7},
{"s":57,"l":53,"d":0.93},{"s":56,"l":54,"d":0.93},{"s":59,"l":55,"d":0.85},{"s":58,"l":56,"d":0.85},{"s":58,"l":58,"d":0.2},{"s":57,"l":57,"d":0.74},{"s":56,"l":56,"d":0.64}],
"key":[{"v":0,"v2":0.025,"d":0},{"v":0.025,"v2":0.05,"d":0.025},{"v":0.05,"v2":0.075,"d":0.05},{"v":0.075,"v2":0.1,"d":0.077},{"v":0.1,"v2":0.125,"d":0.103},{"v":0.125,"v2":0.15,"d":0.128},{"v":0.15,"v2":0.175,"d":0.154},{"v":0.175,"v2":0.2,"d":0.179},{"v":0.2,"v2":0.225,"d":0.205},{"v":0.225,"v2":0.25,"d":0.231},{"v":0.25,"v2":0.275,"d":0.256},{"v":0.275,"v2":0.3,"d":0.282},{"v":0.3,"v2":0.325,"d":0.308},{"v":0.325,"v2":0.35,"d":0.333},{"v":0.35,"v2":0.375,"d":0.359},{"v":0.375,"v2":0.4,"d":0.385},{"v":0.4,"v2":0.425,"d":0.41},{"v":0.425,"v2":0.45,"d":0.436},{"v":0.45,"v2":0.475,"d":0.462},{"v":0.475,"v2":0.5,"d":0.487},{"v":0.5,"v2":0.525,"d":0.513},{"v":0.525,"v2":0.55,"d":0.538},{"v":0.55,"v2":0.575,"d":0.564},{"v":0.575,"v2":0.6,"d":0.59},{"v":0.6,"v2":0.625,"d":0.615},{"v":0.625,"v2":0.65,"d":0.641},{"v":0.65,"v2":0.675,"d":0.667},{"v":0.675,"v2":0.7,"d":0.692},{"v":0.7,"v2":0.725,"d":0.718},{"v":0.725,"v2":0.75,"d":0.744},{"v":0.75,"v2":0.775,"d":0.769},{"v":0.775,"v2":0.8,"d":0.795},{"v":0.8,"v2":0.825,"d":0.821},{"v":0.825,"v2":0.85,"d":0.846},{"v":0.85,"v2":0.875,"d":0.872},{"v":0.875,"v2":0.9,"d":0.897},{"v":0.9,"v2":0.925,"d":0.923},{"v":0.925,"v2":0.95,"d":0.949},{"v":0.95,"v2":0.975,"d":0.974},{"v":0.975,"v2":1,"d":1}]
},
"layer":[
{"data":{"values":[{"x":0,"x2":28.1,"y":0,"y2":1}]},"mark":{"type":"rect","fill":"#A6CEE3"},"encoding":{"x":{"field":"x","type":"quantitative","axis":null,"scale":{"domain":[0,28.1],"range":[347.6,3761]}},"x2":{"field":"x2"},"y":{"field":"y","type":"quantitative","axis":null,"scale":{"domain":[0,1],"range":[746,607]}},"y2":{"field":"y2"}}},
{"data":{"name":"snps"},"mark":{"type":"rule","strokeWidth":2.4},"encoding":{"x":{"field":"pos","type":"quantitative","axis":null,"scale":{"domain":[0,28.1],"range":[347.6,3761]}},"y":{"datum":0,"type":"quantitative","axis":null,"scale":{"domain":[0,1],"range":[746,607]}},"y2":{"datum":1},"stroke":{"field":"t","type":"nominal","legend":null,"scale":{"domain":["p","g"],"range":["#DF7FBD","#808080"]}}}},
{"data":{"name":"snps"},"mark":{"type":"rule","stroke":"#008000","strokeWidth":2.6},"encoding":{"x":{"field":"pos","type":"quantitative","axis":null,"scale":{"domain":[0,28.1],"range":[347.6,3761]}},"x2":{"field":"end"},"y":{"datum":0,"type":"quantitative","axis":null,"scale":{"domain":[0,1],"range":[746,983]}},"y2":{"datum":1}}},
{"data":{"name":"base"},"transform":[{"flatten":["s"]}],"mark":{"type":"point","shape":"diamond","filled":true,"opacity":1,"strokeWidth":0,"size":3570},"encoding":{"x":{"field":"s","type":"quantitative","axis":null,"scale":{"domain":[0,116],"range":[347.6,3761]}},"y":{"field":"l","type":"quantitative","axis":null,"scale":{"domain":[1,58],"range":[1041,2718.5]}},"fill":{"field":"d","type":"quantitative","legend":null,"scale":{"domain":[0,0.25,0.5,0.625,0.75,0.875,1],"range":["#FFFFFF","#F8F5B8","#F0EB45","#F5A833","#FA7527","#FE3C14","#FF0000"],"interpolate":"rgb"}}}},
{"data":{"name":"cells"},"mark":{"type":"point","shape":"diamond","filled":true,"opacity":1,"strokeWidth":0,"size":3570},"encoding":{"x":{"field":"s","type":"quantitative","axis":null,"scale":{"domain":[0,116],"range":[347.6,3761]}},"y":{"field":"l","type":"quantitative","axis":null,"scale":{"domain":[1,58],"range":[1041,2718.5]}},"fill":{"field":"d","type":"quantitative","legend":null,"scale":{"domain":[0,0.25,0.5,0.625,0.75,0.875,1],"range":["#FFFFFF","#F8F5B8","#F0EB45","#F5A833","#FA7527","#FE3C14","#FF0000"],"interpolate":"rgb"}}}},
{"data":{"values":[{"b":1,"o":0,"s":0,"l":1},{"b":1,"o":1,"s":6,"l":1},{"b":1,"o":2,"s":3,"l":4},{"b":1,"o":3,"s":0,"l":1},{"b":2,"o":0,"s":16,"l":1},{"b":2,"o":1,"s":20,"l":1},{"b":2,"o":2,"s":18,"l":3},{"b":2,"o":3,"s":16,"l":1},{"b":3,"o":0,"s":24,"l":1},{"b":3,"o":1,"s":34,"l":1},{"b":3,"o":2,"s":29,"l":6},{"b":3,"o":3,"s":24,"l":1},{"b":4,"o":0,"s":42,"l":1},{"b":4,"o":1,"s":44,"l":1},{"b":4,"o":2,"s":43,"l":2},{"b":4,"o":3,"s":42,"l":1},{"b":5,"o":0,"s":46,"l":1},{"b":5,"o":1,"s":66,"l":1},{"b":5,"o":2,"s":56,"l":11},{"b":5,"o":3,"s":46,"l":1},{"b":6,"o":0,"s":72,"l":1},{"b":6,"o":1,"s":76,"l":1},{"b":6,"o":2,"s":74,"l":3},{"b":6,"o":3,"s":72,"l":1},{"b":7,"o":0,"s":82,"l":1},{"b":7,"o":1,"s":94,"l":1},{"b":7,"o":2,"s":88,"l":7},{"b":7,"o":3,"s":82,"l":1},{"b":8,"o":0,"s":106,"l":1},{"b":8,"o":1,"s":110,"l":1},{"b":8,"o":2,"s":108,"l":3},{"b":8,"o":3,"s":106,"l":1}]},"mark":{"type":"line","stroke":"#000000","strokeWidth":3,"strokeJoin":"miter"},"encoding":{"x":{"field":"s","type":"quantitative","axis":null,"scale":{"domain":[0,116],"range":[347.6,3761]}},"y":{"field":"l","type":"quantitative","axis":null,"scale":{"domain":[1,58],"range":[1041,2718.5]}},"detail":{"field":"b"},"order":{"field":"o"}}},
{"data":{"values":[{"x":0,"y":1.309,"t":"Start:39.576"},{"x":14.06,"y":1.309,"t":"chr15 Region:28.10 (kb)"},{"x":28.15,"y":1.309,"t":"End:39.604 (Mb)"}]},"mark":{"type":"text","font":"Liberation Sans","fontSize":43.5,"align":"center","baseline":"alphabetic","fill":"#000000"},"encoding":{"x":{"field":"x","type":"quantitative","axis":null,"scale":{"domain":[0,28.1],"range":[347.6,3761]}},"y":{"field":"y","type":"quantitative","axis":null,"scale":{"domain":[0,1],"range":[746,607]}},"text":{"field":"t"}}},
{"data":{"name":"key"},"mark":{"type":"rect","strokeWidth":0},"encoding":{"x":{"field":"v","type":"quantitative","axis":null,"scale":{"domain":[0,1],"range":[2661,3851]}},"x2":{"field":"v2"},"y":{"datum":0,"type":"quantitative","axis":null,"scale":{"domain":[0,1],"range":[2779,2690]}},"y2":{"datum":1},"fill":{"field":"d","type":"quantitative","legend":null,"scale":{"domain":[0,0.25,0.5,0.625,0.75,0.875,1],"range":["#FFFFFF","#F8F5B8","#F0EB45","#F5A833","#FA7527","#FE3C14","#FF0000"],"interpolate":"rgb"}}}},
{"data":{"values":[{"v":0,"v2":1}]},"mark":{"type":"rect","fillOpacity":0,"stroke":"#000000","strokeWidth":3.5},"encoding":{"x":{"field":"v","type":"quantitative","axis":null,"scale":{"domain":[0,1],"range":[2661,3851]}},"x2":{"field":"v2"},"y":{"datum":0,"type":"quantitative","axis":null,"scale":{"domain":[0,1],"range":[2779,2690]}},"y2":{"datum":1}}},
{"data":{"values":[{"v":0.487,"y":1.966,"t":"D' Color Key"},{"v":0.002,"y":-0.966,"t":"0.0"},{"v":0.978,"y":-0.966,"t":"1.0"}]},"mark":{"type":"text","font":"Liberation Sans","fontSize":86,"align":"center","baseline":"alphabetic","fill":"#000000"},"encoding":{"x":{"field":"v","type":"quantitative","axis":null,"scale":{"domain":[0,1],"range":[2661,3851]}},"y":{"field":"y","type":"quantitative","axis":null,"scale":{"domain":[0,1],"range":[2779,2690]}},"text":{"field":"t"}}}
],
"resolve":{"scale":{"x":"independent","y":"independent"}}}
